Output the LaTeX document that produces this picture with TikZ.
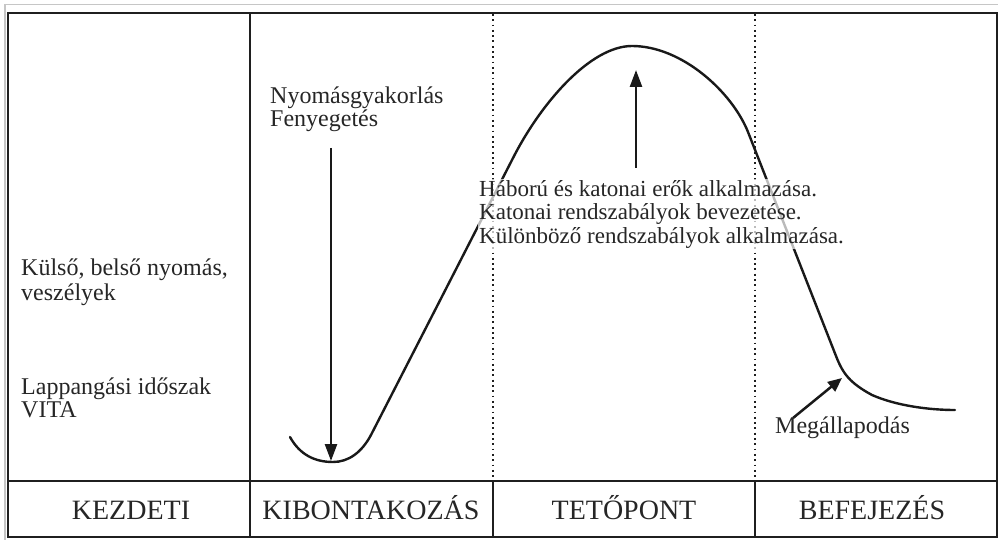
\documentclass[tikz,border=0pt]{standalone}
\usepackage{fontspec}
\setmainfont{Liberation Serif}
\usetikzlibrary{arrows.meta}
\begin{document}
\begin{tikzpicture}[x=1pt,y=-1pt,
  frame/.style={line width=2pt, draw=black!88},
  dotline/.style={line width=1.8pt, draw=black!88, dash pattern=on 1.8pt off 3.5pt},
  curve/.style={line width=2.4pt, draw=black!90, line cap=round},
  arr/.style={line width=2.5pt, draw=black!90, -{Triangle[length=17pt,width=12pt]}},
  txt/.style={font=\fontsize{24}{23}\selectfont, inner sep=0pt, align=left, text=black!85},
  lbl/.style={font=\fontsize{28}{30}\selectfont, inner sep=0pt, text=black!85}]
\useasboundingbox (0,0) rectangle (998,540);
% outer grey edge
\draw[gray!45, line width=1.5pt] (5,540) -- (5,4.5) -- (998,4.5);
% table frame
\draw[frame] (7.5,13) rectangle (996.5,537);
\draw[frame] (7.5,481) -- (996.5,481);
\draw[frame] (250,13) -- (250,537);
\draw[frame] (493,481) -- (493,537);
\draw[frame] (755,481) -- (755,537);
\draw[dotline] (493,14) -- (493,480);
\draw[dotline] (755,14) -- (755,480);
% curve
\draw[curve] (290,437) .. controls (300,455) and (315,462) .. (333,462)
  .. controls (348,462) and (362,453) .. (372,433)
  -- (512,160)
  .. controls (540,104) and (590,46) .. (632,46)
  .. controls (682,46) and (732,92) .. (748,132)
  -- (836,356)
  .. controls (843,374) and (850,383) .. (872,395)
  .. controls (897,406) and (930,410) .. (955,410);
% arrows
\coordinate (a1s) at (331,148);
\coordinate (a1e) at (331,461);
\coordinate (a2s) at (636,168);
\coordinate (a2e) at (636,70);
\coordinate (a3s) at (793,418);
\coordinate (a3e) at (842,378);
\draw[arr] (a1s) -- (a1e);
\draw[arr] (a2s) -- (a2e);
\draw[arr, -{Triangle[length=14pt,width=12pt]}] (a3s) -- (a3e);
% texts (base anchor = baseline of last line)
\node[txt, anchor=base west] (nyomas) at (270,127) {Nyomásgyakorlás\\Fenyegetés};
\node[txt, anchor=base west] (kulso) at (21,300) {Külső, belső nyomás,\\[2pt]veszélyek};
\node[txt, anchor=base west] (lapp) at (21,417) {Lappangási időszak\\VITA};
\node[txt, anchor=base west, fill=white, fill opacity=0.7, text opacity=1, inner sep=1pt,
  font=\fontsize{23}{23.5}\selectfont] (haboru) at (478,243)
  {Háború és katonai erők alkalmazása.\\Katonai rendszabályok bevezetése.\\Különböző rendszabályok alkalmazása.};
\node[txt, anchor=base west] (megall) at (775,433) {Megállapodás};
% bottom labels
\node[lbl, anchor=base] (kezd) at (131,519) {KEZDETI};
\node[lbl, anchor=base] (kibon) at (371,519) {KIBONTAKOZÁS};
\node[lbl, anchor=base] (teto) at (624,519) {TETŐPONT};
\node[lbl, anchor=base] (befej) at (872,519) {BEFEJEZÉS};
\end{tikzpicture}
\end{document}
